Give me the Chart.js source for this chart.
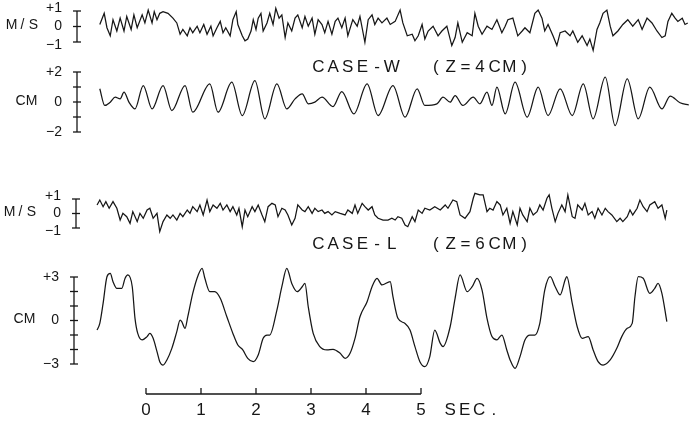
<!DOCTYPE html>
<html>
<head>
<meta charset="utf-8">
<script src="https://cdn.jsdelivr.net/npm/chart.js@4.4.1/dist/chart.umd.min.js"></script>
<style>
  html, body { margin: 0; background: #fff; }
  #wrap { width: 689px; height: 426px; }
</style>
</head>
<body>
<div id="wrap"><canvas id="chart" width="689" height="426"></canvas></div>
<script>
// Two wave records (CASE-W, CASE-L): orbital velocity (M/S) and surface displacement (CM)
// times in seconds, 0 = start of the 5 s scale bar

const velTimeW = [-0.84,-0.76,-0.71,-0.65,-0.60,-0.53,-0.47,-0.40,-0.35,-0.27,-0.22,-0.16,-0.07,-0.02,0.04,0.11,0.15,0.20,0.25,0.31,
  0.40,0.49,0.56,0.62,0.67,0.75,0.80,0.85,0.93,0.98,1.05,1.11,1.18,1.22,1.29,1.35,1.40,1.45,1.53,1.58,
  1.64,1.67,1.75,1.80,1.85,1.91,1.95,2.00,2.04,2.09,2.13,2.20,2.25,2.31,2.36,2.42,2.47,2.53,2.58,2.65,
  2.71,2.76,2.84,2.89,2.95,3.02,3.07,3.13,3.20,3.25,3.31,3.38,3.44,3.49,3.56,3.62,3.67,3.76,3.84,3.89,
  3.98,4.04,4.11,4.16,4.22,4.29,4.38,4.44,4.53,4.62,4.67,4.75,4.84,4.89,4.95,5.02,5.07,5.13,5.22,5.31,
  5.38,5.47,5.56,5.62,5.67,5.75,5.84,5.93,5.98,6.04,6.11,6.20,6.29,6.38,6.47,6.53,6.58,6.67,6.76,6.84,
  6.89,6.98,7.07,7.13,7.20,7.25,7.31,7.40,7.47,7.53,7.62,7.71,7.76,7.85,7.93,8.02,8.07,8.13,8.20,8.25,
  8.31,8.38,8.44,8.49,8.58,8.67,8.76,8.85,8.95,9.02,9.11,9.20,9.29,9.38,9.44,9.49,9.56,9.62,9.67,9.75,
  9.80,9.85];
const velValueW = [0.13,0.85,-0.08,-0.60,0.44,-0.29,0.54,-0.29,0.65,-0.19,0.75,-0.08,0.75,0.23,1.06,0.23,0.96,0.44,0.85,0.96,
  0.85,0.54,0.23,-0.50,-0.19,-0.60,-0.08,-0.40,0.02,-0.40,0.13,-0.50,0.02,-0.60,-0.08,0.33,-0.40,-0.08,-0.60,0.44,
  0.96,0.13,-0.60,-0.92,-0.81,-0.29,0.44,-0.19,0.54,0.85,-0.29,0.23,0.85,0.13,1.17,0.54,0.75,-0.71,0.23,-0.29,
  0.54,0.75,-0.08,0.65,0.02,0.54,-0.50,0.44,0.13,-0.40,0.33,-0.50,0.33,0.54,-0.08,0.54,-0.60,0.44,0.02,0.65,
  -1.02,0.44,0.75,0.13,0.54,0.23,0.54,0.13,0.33,1.06,0.23,-0.60,-0.50,-0.92,-0.60,0.13,-0.81,-0.29,0.02,-0.60,
  -0.29,0.02,-1.23,-0.71,0.23,-1.02,-0.40,-0.60,0.85,0.02,-0.50,0.02,-0.19,0.44,-0.40,0.02,0.44,0.54,-0.60,-0.29,
  -0.08,-0.40,0.85,1.06,0.54,-0.29,0.13,-0.60,-1.23,-0.40,-0.29,-0.60,-0.29,-1.02,-0.60,-1.23,-0.81,-1.54,-0.19,0.23,
  0.85,1.06,0.02,-0.60,-0.29,0.13,0.44,0.02,0.44,-0.19,0.54,0.23,-0.29,-0.71,-0.60,0.33,0.85,0.54,0.33,0.54,
  0.13,0.23];

const dispTimeW = [-0.84,-0.75,-0.65,-0.56,-0.47,-0.40,-0.31,-0.20,-0.05,0.11,0.31,0.47,0.71,0.85,1.16,1.31,1.56,1.75,1.98,2.16,
  2.38,2.56,2.71,2.84,2.95,3.07,3.20,3.40,3.56,3.78,4.02,4.22,4.49,4.71,4.93,5.07,5.29,5.40,5.53,5.62,
  5.76,5.95,6.07,6.20,6.29,6.38,6.53,6.71,6.93,7.13,7.31,7.53,7.75,7.95,8.13,8.35,8.53,8.75,8.95,9.16,
  9.38,9.53,9.71,9.87];
const dispValueW = [0.88,-0.23,-0.01,0.32,0.21,0.66,-0.01,-0.46,1.10,-0.46,1.10,-0.57,1.10,-0.68,1.21,-0.68,1.32,-0.90,1.43,-1.12,
  1.21,-0.46,0.21,0.54,-0.12,-0.01,0.32,-0.30,0.70,-0.79,1.21,-0.90,1.10,-1.01,0.88,-0.23,-0.12,0.32,-0.01,0.43,
  -0.23,0.32,-0.12,0.66,-0.23,0.99,-0.79,1.32,-1.01,0.99,-0.90,0.88,-0.90,1.21,-1.12,1.66,-1.57,1.54,-1.12,0.99,
  -0.46,0.40,-0.05,-0.20];

const velTimeL = [-0.89,-0.84,-0.78,-0.73,-0.67,-0.60,-0.53,-0.47,-0.42,-0.35,-0.29,-0.24,-0.16,-0.11,-0.05,0.02,0.07,0.13,0.20,0.25,
  0.31,0.38,0.44,0.49,0.56,0.62,0.67,0.75,0.80,0.85,0.93,0.98,1.04,1.11,1.16,1.22,1.29,1.35,1.40,1.47,
  1.53,1.58,1.65,1.69,1.75,1.80,1.85,1.93,1.98,2.04,2.11,2.16,2.22,2.29,2.35,2.40,2.47,2.53,2.58,2.65,
  2.71,2.76,2.84,2.89,2.95,3.02,3.07,3.13,3.20,3.25,3.31,3.38,3.44,3.53,3.62,3.67,3.75,3.80,3.85,3.93,
  3.98,4.04,4.11,4.16,4.22,4.31,4.40,4.47,4.53,4.58,4.65,4.71,4.76,4.84,4.89,4.95,5.02,5.07,5.16,5.25,
  5.35,5.44,5.49,5.58,5.65,5.71,5.80,5.89,5.95,5.98,6.07,6.13,6.20,6.25,6.31,6.38,6.44,6.49,6.56,6.62,
  6.67,6.75,6.80,6.85,6.93,6.98,7.04,7.11,7.16,7.22,7.29,7.33,7.38,7.44,7.49,7.56,7.62,7.67,7.75,7.80,
  7.85,7.93,7.98,8.04,8.11,8.16,8.22,8.29,8.35,8.40,8.47,8.56,8.62,8.67,8.75,8.80,8.85,8.93,8.98,9.04,
  9.11,9.16,9.25,9.31,9.38,9.44,9.47];
const velValueL = [0.59,0.93,0.47,0.82,0.36,0.82,0.36,-0.45,0.01,-0.22,-0.68,0.13,-0.56,0.01,-0.33,0.24,0.36,-0.33,0.01,-1.25,
  -0.56,-0.10,-0.33,-0.10,-0.45,0.01,-0.22,0.24,0.01,0.47,0.13,0.59,-0.10,0.93,0.13,0.59,0.36,0.70,0.24,0.59,
  0.13,0.47,-0.10,0.36,-0.91,0.24,-0.22,0.47,0.13,0.59,-0.10,-0.56,0.47,0.70,0.59,-0.22,0.36,0.24,-0.10,-0.79,
  -0.33,0.59,0.24,0.13,0.47,0.01,0.36,0.13,0.24,0.01,0.13,-0.10,0.13,0.01,-0.10,0.24,0.01,0.59,0.01,0.70,
  0.47,0.24,0.47,-0.10,-0.33,-0.45,-0.45,-0.33,-0.45,-0.22,-0.33,-0.79,-0.91,-0.22,-0.56,0.24,0.01,0.36,0.24,0.47,
  0.24,0.59,0.36,0.93,0.82,-0.10,-0.33,0.13,1.05,1.39,1.28,1.28,0.13,0.36,0.24,0.82,0.59,-0.10,0.36,-0.68,
  0.13,-0.79,0.36,-0.10,-0.56,0.36,-0.10,0.13,0.59,0.24,1.05,1.28,0.36,-0.56,0.01,0.59,0.13,1.28,-0.22,-0.33,
  0.59,0.24,0.70,-0.10,0.13,-0.33,0.36,-0.10,0.36,0.13,-0.10,-0.56,-0.33,-0.56,-0.22,0.24,-0.10,0.36,0.93,0.47,
  0.13,0.59,0.82,0.36,0.59,-0.33,0.24];

const dispTimeL = [-0.89,-0.84,-0.78,-0.71,-0.65,-0.60,-0.53,-0.44,-0.38,-0.33,-0.25,-0.20,-0.15,-0.07,0.02,0.07,0.13,0.20,0.25,0.31,
  0.38,0.47,0.56,0.62,0.65,0.71,0.76,0.85,0.95,1.02,1.07,1.16,1.25,1.35,1.47,1.58,1.67,1.76,1.85,1.95,
  2.04,2.13,2.20,2.25,2.38,2.47,2.56,2.65,2.75,2.84,2.89,2.95,3.04,3.16,3.29,3.40,3.53,3.62,3.71,3.80,
  3.89,4.02,4.11,4.20,4.29,4.44,4.49,4.58,4.71,4.80,4.89,4.98,5.07,5.16,5.25,5.35,5.40,5.53,5.62,5.71,
  5.84,5.93,6.02,6.11,6.20,6.29,6.38,6.47,6.56,6.62,6.71,6.80,6.89,6.98,7.07,7.16,7.25,7.35,7.44,7.53,
  7.62,7.65,7.75,7.84,7.93,8.04,8.13,8.22,8.31,8.44,8.56,8.65,8.75,8.84,8.89,8.95,9.04,9.16,9.25,9.31,
  9.38,9.47];
const dispValueL = [-0.66,-0.20,1.18,3.02,3.25,2.68,2.22,2.22,2.91,3.14,2.33,0.15,-0.89,-1.34,-1.11,-0.89,-1.23,-2.15,-2.84,-3.07,
  -2.72,-1.92,-0.77,0.03,-0.08,-0.54,0.26,1.87,3.14,3.60,2.91,1.99,1.99,1.53,0.26,-0.89,-1.69,-2.03,-2.61,-2.84,
  -2.38,-1.23,-1.00,-1.00,0.72,2.33,3.60,2.56,1.99,2.33,2.56,0.95,-0.89,-1.80,-2.03,-1.99,-2.26,-2.61,-2.26,-1.23,
  0.26,1.30,2.33,2.91,2.45,2.68,1.64,0.15,-0.20,-0.66,-1.80,-2.84,-3.18,-2.49,-0.66,-1.57,-1.80,-0.43,1.53,3.14,
  1.99,2.33,2.91,2.10,0.15,-1.11,-1.34,-1.00,-2.03,-2.72,-3.30,-2.49,-1.34,-1.00,-1.00,-0.20,2.10,3.02,2.33,1.76,
  2.79,3.02,1.18,-0.43,-1.23,-1.11,-2.03,-2.84,-3.07,-2.72,-1.92,-1.11,-0.54,-0.20,1.64,3.02,2.91,1.87,2.22,2.56,
  1.87,-0.08];

const velTicks        = [1, 0, -1];
const velTickLabels   = ['+1', '0', '−1'];
const dispTicksW      = [2, 1, 0, -1, -2];
const dispTickLabelsW = ['+2', '', '0', '', '−2'];
const dispTicksL      = [3, 2, 1, 0, -1, -2, -3];
const dispTickLabelsL = ['+3', '', '', '0', '', '', '−3'];
const timeTicks       = [0, 1, 2, 3, 4, 5];
const timeTickLabels  = ['0', '1', '2', '3', '4', '5'];
const caseTitles      = ['CASE-W  (Z=4CM)', 'CASE-L  (Z=6CM)'];

const W = 689, H = 426;
const INK = '#161616';
const T0_PX = 146, PX_PER_SEC = 55;
const FONT = '"Liberation Sans", Arial, sans-serif';

// where each strip sits on the page (pixel rows of its top / bottom tick)
const panels = [
  { id: 'yVelW',  hi: 1, lo: -1, hiPx: 11,  loPx: 42,  axisX: 77, unit: 'M/S', unitX: 6,  ticks: velTicks,   labels: velTickLabels,   spread: 3 },
  { id: 'yDispW', hi: 2, lo: -2, hiPx: 72,  loPx: 132, axisX: 77, unit: 'CM',  unitX: 15, ticks: dispTicksW, labels: dispTickLabelsW, spread: 0 },
  { id: 'yVelL',  hi: 1, lo: -1, hiPx: 199, loPx: 228, axisX: 76, unit: 'M/S', unitX: 4,  ticks: velTicks,   labels: velTickLabels,   spread: 3 },
  { id: 'yDispL', hi: 3, lo: -3, hiPx: 277, loPx: 364, axisX: 74, unit: 'CM',  unitX: 13, ticks: dispTicksL, labels: dispTickLabelsL, spread: 0 },
];
const titlePos = [{ x: 311, y: 67 }, { x: 311, y: 244 }];

function rangeFor(p) {
  const ppu = (p.loPx - p.hiPx) / (p.hi - p.lo);
  const max = p.hi + p.hiPx / ppu;
  return { min: max - H / ppu, max };
}

function pts(ts, vs) {
  return ts.map((t, i) => ({ x: t, y: vs[i] }));
}

function line(ctx, x1, y1, x2, y2) {
  ctx.beginPath();
  ctx.moveTo(x1, y1);
  ctx.lineTo(x2, y2);
  ctx.stroke();
}

// plotter lettering: one glyph per fixed cell
function spaced(ctx, text, x, y, adv) {
  ctx.textAlign = 'center';
  [...text].forEach((ch, i) => ctx.fillText(ch, x + i * adv + adv / 2, y));
}

const plotterAxes = {
  id: 'plotterAxes',
  afterDraw(chart) {
    const ctx = chart.ctx;
    ctx.save();
    ctx.strokeStyle = INK;
    ctx.fillStyle = INK;
    ctx.lineWidth = 1.3;
    ctx.textBaseline = 'middle';

    panels.forEach(p => {
      const s = chart.scales[p.id];
      line(ctx, p.axisX, s.getPixelForValue(p.hi), p.axisX, s.getPixelForValue(p.lo));
      ctx.font = '14px ' + FONT;
      p.ticks.forEach((v, i) => {
        const y = s.getPixelForValue(v);
        line(ctx, p.axisX - 4, y, p.axisX + 4, y);
        const lab = p.labels[i];
        if (!lab) return;
        const dy = v === p.hi ? -p.spread : v === p.lo ? p.spread : 0;
        ctx.textAlign = 'right';
        ctx.fillText(lab, p.axisX - 15, y + dy);
      });
      spaced(ctx, p.unit, p.unitX, s.getPixelForValue(0) - 1, 11);
    });

    ctx.font = '17px ' + FONT;
    caseTitles.forEach((t, i) => spaced(ctx, t, titlePos[i].x, titlePos[i].y, 14.7));

    // 5 second scale bar
    const xs = chart.scales.x;
    const barY = 394;
    line(ctx, xs.getPixelForValue(timeTicks[0]), barY, xs.getPixelForValue(timeTicks[timeTicks.length - 1]), barY);
    ctx.font = '17px ' + FONT;
    timeTicks.forEach((t, i) => {
      const x = xs.getPixelForValue(t);
      line(ctx, x, barY, x, barY - 6);
      ctx.textAlign = 'center';
      ctx.fillText(timeTickLabels[i], x, barY + 16);
    });
    spaced(ctx, 'SEC.', xs.getPixelForValue(5) + 22, barY + 16, 14.5);
    ctx.restore();
  }
};

const scales = {
  x: { type: 'linear', display: false, min: -T0_PX / PX_PER_SEC, max: (W - T0_PX) / PX_PER_SEC },
};
panels.forEach(p => {
  scales[p.id] = Object.assign({ type: 'linear', display: false }, rangeFor(p));
});

const trace = (data, yAxisID, smooth) => ({
  data, yAxisID,
  borderColor: INK,
  borderWidth: 1.25,
  pointRadius: 0,
  fill: false,
  tension: smooth ? 0.4 : 0,
  cubicInterpolationMode: smooth ? 'monotone' : 'default',
});

new Chart(document.getElementById('chart'), {
  type: 'line',
  data: {
    datasets: [
      trace(pts(velTimeW, velValueW), 'yVelW', false),
      trace(pts(dispTimeW, dispValueW), 'yDispW', true),
      trace(pts(velTimeL, velValueL), 'yVelL', false),
      trace(pts(dispTimeL, dispValueL), 'yDispL', true),
    ],
  },
  options: {
    responsive: false,
    animation: false,
    layout: { padding: 0 },
    plugins: { legend: { display: false }, tooltip: { enabled: false } },
    scales,
  },
  plugins: [plotterAxes],
});
</script>
</body>
</html>
